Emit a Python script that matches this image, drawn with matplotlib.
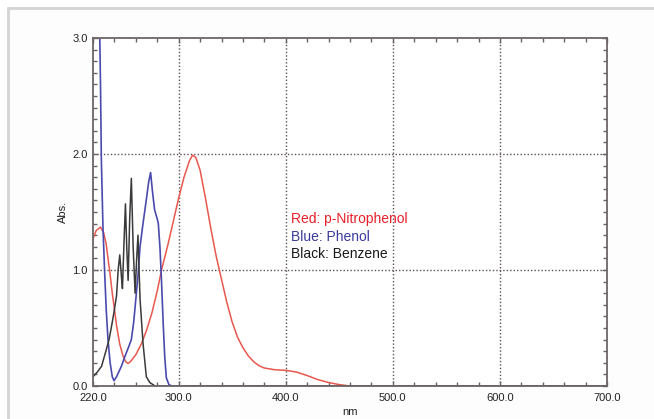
'''
UV-Vis absorbance spectra: p-nitrophenol, phenol, benzene
'''
import numpy as np
from matplotlib import pyplot as plt
from matplotlib.patches import Rectangle
from matplotlib.ticker import MultipleLocator, FixedLocator

plt.rcParams['font.family'] = ['Liberation Sans', 'DejaVu Sans']

# readin the data
red_nm = [220, 223, 227, 230, 232.4, 234, 235.5, 238, 240.2, 242, 245, 248, 250.5, 252.7,
          255, 260, 265, 270, 275, 280, 284, 290, 295, 300, 305, 310, 313, 316, 320, 325,
          330, 335, 340, 345, 350, 355, 360, 365, 370, 375, 380, 390, 400, 410, 420, 430,
          440, 450, 460, 700]
red_abs = [1.27, 1.34, 1.37, 1.32, 1.22, 1.10, 1.0, 0.80, 0.65, 0.52, 0.36, 0.26, 0.21, 0.195,
           0.21, 0.27, 0.36, 0.48, 0.63, 0.82, 1.0, 1.22, 1.42, 1.62, 1.80, 1.94, 1.99, 1.97, 1.86, 1.62,
           1.36, 1.12, 0.92, 0.72, 0.55, 0.42, 0.33, 0.26, 0.21, 0.175, 0.155, 0.14, 0.135, 0.12, 0.09, 0.055,
           0.03, 0.012, 0.0, 0.0]

blue_nm = [220, 226, 227, 227.8, 229.3, 231, 232.4, 234, 236, 238, 239.6, 242, 246.5, 250, 253,
           255.8, 258, 260.5, 262, 263.9, 266.7, 270, 272, 273.8, 275.5, 277.5, 280, 281, 282.5,
           284, 285.5, 287, 288.5, 291, 294, 700]
blue_abs = [3.6, 3.2, 2.6, 1.95, 1.37, 0.95, 0.65, 0.40, 0.20, 0.08, 0.046, 0.08, 0.17, 0.26, 0.33,
            0.40, 0.55, 0.80, 0.95, 1.2, 1.40, 1.62, 1.76, 1.84, 1.68, 1.52, 1.44, 1.40, 1.20,
            0.90, 0.55, 0.25, 0.07, 0.01, 0.0, 0.0]

black_nm = [220, 224, 228, 232, 235, 238, 240, 242, 243.5, 245, 246.5, 247.5, 249, 250.3, 251.5,
            252.8, 254.3, 255.8, 257.5, 259.3, 260.8, 262, 263, 264, 266.7, 269.8, 273, 278, 700]
black_abs = [0.08, 0.12, 0.17, 0.30, 0.40, 0.55, 0.66, 0.78, 1.0, 1.13, 0.95, 0.84, 1.25, 1.57, 1.2,
             0.91, 1.45, 1.79, 1.2, 0.80, 1.1, 1.30, 1.0, 0.74, 0.37, 0.08, 0.03, 0.0, 0.0]

x_ticks = [220, 300, 400, 500, 600, 700]
y_ticks = [0.0, 1.0, 2.0, 3.0]

#plotting
fig = plt.figure(figsize=(6.54, 4.19), dpi=100)
fig.patch.set_facecolor('white')
# light grey panel frame, cut off at the right and bottom
fig.patches.append(Rectangle((8 / 654, -0.2), 1.2, 1.2 - 8 / 419, transform=fig.transFigure,
                             facecolor='#fdfdfd', edgecolor='#d4d4d4', linewidth=2, zorder=-5))

ax = fig.add_axes([93 / 654, 33 / 419, 514 / 654, 348 / 419])
ax.set_facecolor('white')

ax.plot(red_nm, red_abs, color='#e8584e', lw=1.1)
ax.plot(blue_nm, blue_abs, color='#4a4aae', lw=1.2)
ax.plot(black_nm, black_abs, color='#3a3a3a', lw=1.1)

ax.set_xlim(220, 700)
ax.set_ylim(0, 3)
ax.xaxis.set_major_locator(FixedLocator(x_ticks))
ax.xaxis.set_minor_locator(MultipleLocator(20))
ax.yaxis.set_major_locator(FixedLocator(y_ticks))
ax.yaxis.set_minor_locator(MultipleLocator(0.1))
ax.set_xticklabels(['{:.1f}'.format(v) for v in x_ticks])
ax.set_yticklabels(['{:.1f}'.format(v) for v in y_ticks])

for spine in ax.spines.values():
    spine.set_color('#6e6666')
    spine.set_linewidth(1.3)
ax.tick_params(which='both', direction='in', top=True, right=True, bottom=True, left=True,
               color='#6a6262', labelcolor='#222222', labelsize=8)
ax.tick_params(axis='x', which='major', pad=5)
ax.tick_params(axis='y', which='major', pad=4)
ax.tick_params(which='major', length=3.5, width=1)
ax.tick_params(which='minor', length=3, width=1)

# dotted grid
for gx in [300, 400, 500, 600]:
    ax.axvline(gx, color='#5a5050', lw=1.0, ls=(0, (1, 1.5)), zorder=0)
for gy in [1.0, 2.0]:
    ax.axhline(gy, color='#5a5050', lw=1.0, ls=(0, (1, 1.5)), zorder=0)

ax.set_xlabel('nm', fontsize=8, labelpad=3, color='#222222')
ax.set_ylabel('Abs.', fontsize=8, labelpad=3, color='#222222')

ax.text(0.385, 0.468, 'Red: p-Nitrophenol', transform=ax.transAxes, fontsize=10, color='#e8202a')
ax.text(0.385, 0.418, 'Blue: Phenol', transform=ax.transAxes, fontsize=10, color='#3a3a9e')
ax.text(0.385, 0.368, 'Black: Benzene', transform=ax.transAxes, fontsize=10, color='#1a1a1a')

fig.savefig('out.png', dpi=100)
